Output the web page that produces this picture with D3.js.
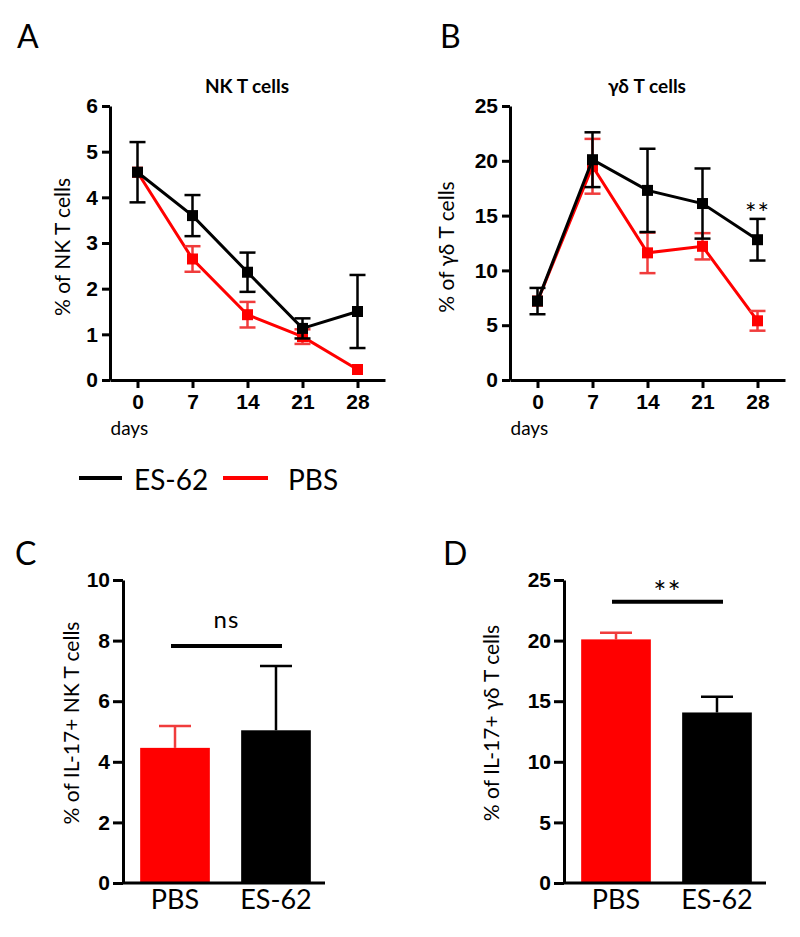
<!DOCTYPE html>
<html>
<head>
<meta charset="utf-8">
<script src="https://cdn.jsdelivr.net/npm/d3@7"></script>
<style>
  body { margin: 0; background: #fff; }
  svg { display: block; }
  .lbl { font-family: Lato, "Open Sans", sans-serif; fill: #000; }
</style>
</head>
<body>
<div id="chart-area"></div>
<script>
'use strict';

// time course, days after start
let days = [0, 7, 14, 21, 28];

// NK T cells (%)
let nktEs62 = [4.55, 3.6, 2.36, 1.13, 1.5];
let nktEs62Sem = [0.66, 0.45, 0.43, 0.22, 0.8];
let nktPbs = [4.55, 2.65, 1.43, 0.95, 0.23];
let nktPbsSem = [0, 0.28, 0.28, 0.16, 0];

// gamma delta T cells (%)
let gdEs62 = [7.2, 20.1, 17.3, 16.1, 12.8];
let gdEs62Sem = [1.2, 2.5, 3.8, 3.2, 1.9];
let gdPbs = [7.2, 19.5, 11.6, 12.2, 5.4];
let gdPbsSem = [0, 2.5, 1.85, 1.2, 0.9];

// IL-17+ bars
let groups = ['PBS', 'ES-62'];
let nktIl17 = [4.46, 5.04];
let nktIl17Sem = [0.72, 2.12];
let gdIl17 = [20.1, 14.07];
let gdIl17Sem = [0.55, 1.3];

const RED = '#ff0000';
const RED_ERR = '#f03c3c';

let svg = d3.select('#chart-area').append('svg')
    .attr('width', 800)
    .attr('height', 937);

function styleAxis(g) {
    g.select('.domain').attr('stroke', '#000').attr('stroke-width', 3);
    g.selectAll('.tick line').attr('stroke', '#000').attr('stroke-width', 3);
    g.selectAll('.tick text')
        .attr('font-family', '"Liberation Sans", Arial, sans-serif')
        .attr('font-weight', 'bold')
        .attr('font-size', 21)
        .attr('fill', '#000');
}

function label(txt, x, y, size, opts) {
    opts = opts || {};
    let t = svg.append('text')
        .attr('class', 'lbl')
        .attr('x', x)
        .attr('y', y)
        .attr('font-size', size)
        .attr('text-anchor', opts.anchor || 'start')
        .attr('font-weight', opts.bold ? 'bold' : 'normal')
        .text(txt);
    if (opts.rotate) {
        t.attr('transform', 'rotate(-90,' + x + ',' + y + ')');
    }
    return t;
}

function linePanel(cfg) {
    let x = d3.scaleLinear().domain([-3.5, 31.5]).range([cfg.left, cfg.left + 275]);
    let y = d3.scaleLinear().domain([0, cfg.ymax]).range([380, 106]);

    let g = svg.append('g');

    g.append('g')
        .attr('transform', 'translate(0,380)')
        .call(d3.axisBottom(x).tickValues(days).tickSize(8).tickSizeOuter(0).tickPadding(6))
        .call(styleAxis);
    g.append('g')
        .attr('transform', 'translate(' + cfg.left + ',0)')
        .call(d3.axisLeft(y).tickValues(d3.range(0, cfg.ymax + 0.01, cfg.step))
            .tickFormat(d3.format('d'))
            .tickSize(8).tickSizeOuter(0).tickPadding(4))
        .call(styleAxis);

    let series = [
        {vals: cfg.pbs, sem: cfg.pbsSem, col: RED, err: RED_ERR},
        {vals: cfg.es, sem: cfg.esSem, col: '#000', err: '#000'}
    ];

    let line = d3.line().x((d, i) => x(days[i])).y((d) => y(d));

    series.forEach((s) => {
        let pts = s.vals.map((v, i) => ({day: days[i], v: v, e: s.sem[i]}));
        let sg = g.append('g');
        sg.append('path')
            .attr('d', line(s.vals))
            .attr('fill', 'none')
            .attr('stroke', s.col)
            .attr('stroke-width', 3);

        let eb = sg.selectAll('.eb').data(pts.filter((p) => p.e > 0)).enter()
            .append('g');
        eb.append('line')
            .attr('x1', (p) => x(p.day)).attr('x2', (p) => x(p.day))
            .attr('y1', (p) => y(p.v - p.e)).attr('y2', (p) => y(p.v + p.e));
        eb.append('line')
            .attr('x1', (p) => x(p.day) - 8).attr('x2', (p) => x(p.day) + 8)
            .attr('y1', (p) => y(p.v + p.e)).attr('y2', (p) => y(p.v + p.e));
        eb.append('line')
            .attr('x1', (p) => x(p.day) - 8).attr('x2', (p) => x(p.day) + 8)
            .attr('y1', (p) => y(p.v - p.e)).attr('y2', (p) => y(p.v - p.e));
        eb.selectAll('line').attr('stroke', s.err).attr('stroke-width', 2.5);

        sg.selectAll('rect').data(pts).enter()
            .append('rect')
            .attr('x', (p) => x(p.day) - 5.5)
            .attr('y', (p) => y(p.v) - 5.5)
            .attr('width', 11)
            .attr('height', 11)
            .attr('fill', s.col);
    });

    label(cfg.title, cfg.left + 137, 93, 19, {anchor: 'middle', bold: true});
    label(cfg.ylab, cfg.left - cfg.ylabOff, 247, 21, {anchor: 'middle', rotate: true});
    label('days', x(0) - 27, 435, 19);
    label(cfg.letter, cfg.letterX, 48, 32);
    return {x: x, y: y};
}

let pA = linePanel({
    left: 110, ymax: 6, step: 1, es: nktEs62, esSem: nktEs62Sem, pbs: nktPbs, pbsSem: nktPbsSem,
    title: 'NK T cells', ylab: '% of NK T cells', ylabOff: 40, letter: 'A', letterX: 17
});
let pB = linePanel({
    left: 510, ymax: 25, step: 5, es: gdEs62, esSem: gdEs62Sem, pbs: gdPbs, pbsSem: gdPbsSem,
    title: 'γδ T cells', ylab: '% of γδ  T cells', ylabOff: 56, letter: 'B', letterX: 440
});
// significance at day 28
label('**', pB.x(28), pB.y(gdEs62[4] + gdEs62Sem[4]) + 4, 27, {anchor: 'middle'})
    .attr('letter-spacing', 1);

// legend
svg.append('line').attr('x1', 79).attr('x2', 122).attr('y1', 478).attr('y2', 478)
    .attr('stroke', '#000').attr('stroke-width', 4);
label('ES-62', 134, 490, 28);
svg.append('line').attr('x1', 223).attr('x2', 268).attr('y1', 478).attr('y2', 478)
    .attr('stroke', RED).attr('stroke-width', 4);
label('PBS', 288, 490, 28);

function barPanel(cfg) {
    let x = d3.scaleBand().domain(groups).range([cfg.left, cfg.left + 205])
        .paddingInner(0.31).paddingOuter(0.17);
    let y = d3.scaleLinear().domain([0, cfg.ymax]).range([883, 580]);

    let g = svg.append('g');
    let cols = [RED, '#000'];
    let errCols = [RED_ERR, '#000'];

    let bars = g.selectAll('.bar').data(cfg.vals).enter().append('g');
    bars.append('line')
        .attr('x1', (d, i) => x(groups[i]) + x.bandwidth() / 2)
        .attr('x2', (d, i) => x(groups[i]) + x.bandwidth() / 2)
        .attr('y1', (d) => y(d))
        .attr('y2', (d, i) => y(d + cfg.sem[i]))
        .attr('stroke', (d, i) => errCols[i]).attr('stroke-width', 2.5);
    bars.append('line')
        .attr('x1', (d, i) => x(groups[i]) + x.bandwidth() / 2 - 16)
        .attr('x2', (d, i) => x(groups[i]) + x.bandwidth() / 2 + 16)
        .attr('y1', (d, i) => y(d + cfg.sem[i]))
        .attr('y2', (d, i) => y(d + cfg.sem[i]))
        .attr('stroke', (d, i) => errCols[i]).attr('stroke-width', 2.5);
    bars.append('rect')
        .attr('x', (d, i) => x(groups[i]))
        .attr('y', (d) => y(d))
        .attr('width', x.bandwidth())
        .attr('height', (d) => 883 - y(d))
        .attr('fill', (d, i) => cols[i]);

    g.append('g')
        .attr('transform', 'translate(' + cfg.left + ',0)')
        .call(d3.axisLeft(y).tickValues(d3.range(0, cfg.ymax + 0.01, cfg.step))
            .tickFormat(d3.format('d'))
            .tickSize(10).tickSizeOuter(0).tickPadding(3))
        .call(styleAxis);
    g.append('line')
        .attr('x1', cfg.left).attr('x2', cfg.left + 202)
        .attr('y1', 883).attr('y2', 883)
        .attr('stroke', '#000').attr('stroke-width', 3);

    groups.forEach((c) => {
        label(c, x(c) + x.bandwidth() / 2, 909, 27, {anchor: 'middle'});
    });

    // significance bar
    let x1 = x(groups[0]) + x.bandwidth() / 2 - 4;
    let x2 = x(groups[1]) + x.bandwidth() / 2 + 6;
    g.append('line')
        .attr('x1', x1).attr('x2', x2)
        .attr('y1', y(cfg.sig)).attr('y2', y(cfg.sig))
        .attr('stroke', '#000').attr('stroke-width', 4);
    label(cfg.sigText, (x1 + x2) / 2, y(cfg.sig) + cfg.sigDy, cfg.sigSize, {anchor: 'middle'})
        .attr('letter-spacing', 1);

    label(cfg.ylab, cfg.left - cfg.ylabOff, 723, 21, {anchor: 'middle', rotate: true});
    label(cfg.letter, cfg.letterX, 565, 32);
}

barPanel({
    left: 123, ymax: 10, step: 2, vals: nktIl17, sem: nktIl17Sem,
    sig: 7.82, sigText: 'ns', sigDy: -18, sigSize: 24,
    ylab: '% of IL-17+ NK T cells', ylabOff: 44, letter: 'C', letterX: 15
});
barPanel({
    left: 564, ymax: 25, step: 5, vals: gdIl17, sem: gdIl17Sem,
    sig: 23.2, sigText: '**', sigDy: 1, sigSize: 31,
    ylab: '% of IL-17+ γδ  T cells', ylabOff: 65, letter: 'D', letterX: 443
});
</script>
</body>
</html>
